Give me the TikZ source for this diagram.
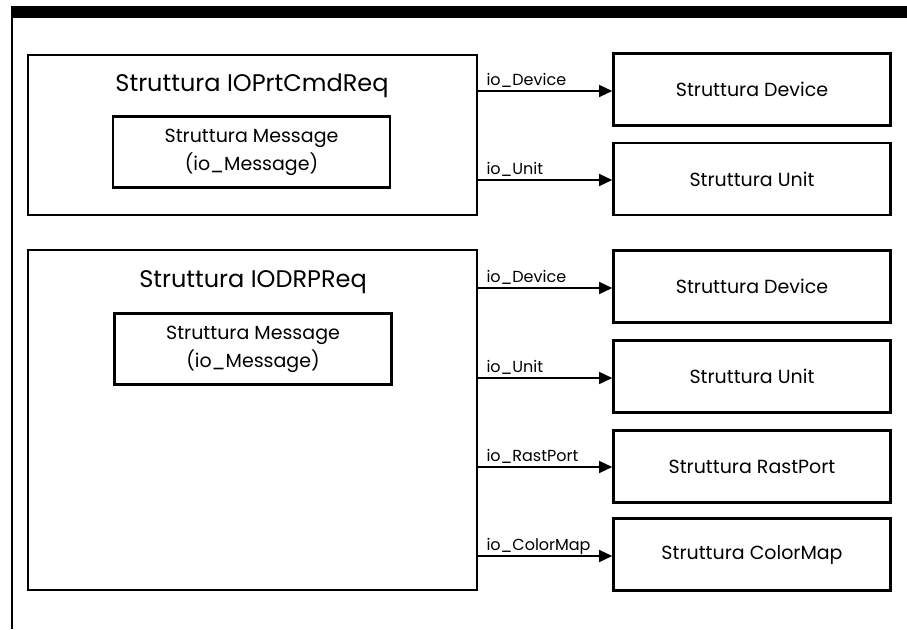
\documentclass[tikz,border=0pt]{standalone}
\usepackage{fontspec}
\setmainfont{Poppins}
\usetikzlibrary{arrows.meta}
\begin{document}
\begin{tikzpicture}[x=1pt,y=-1pt,
  outer/.style={draw,line width=2.6pt,inner sep=0pt},
  refbox/.style={draw,line width=2.6pt,minimum width=277pt,minimum height=72pt,inner sep=0pt,font=\fontsize{19}{23}\selectfont},
  msgbox/.style={draw,line width=2.2pt,minimum width=277pt,minimum height=71pt,inner sep=0pt,align=center,font=\fontsize{19}{28}\selectfont},
  titletext/.style={font=\fontsize{24}{28}\selectfont},
  lbl/.style={anchor=base west,inner sep=0pt,font=\fontsize{16}{18}\selectfont},
  link/.style={line width=1.4pt,-{Triangle[length=13pt,width=12pt]}}]
\useasboundingbox (0,0) rectangle (907,629);
% frame
\fill (11,6) rectangle (907,18);
\draw[line width=1.5pt] (12,18) -- (12,629);
% upper group
\node[outer,minimum width=449pt,minimum height=160pt] (A) at (252.5,135) {};
\node[titletext] (At) at (252,86) {Struttura IOPrtCmdReq};
\node[msgbox] (Am) at (251.5,152) {Struttura Message\\(io\_Message)};
\node[refbox] (Ad) at (752,89.5) {Struttura Device};
\node[refbox] (Au) at (752,179) {Struttura Unit};
% lower group
\node[outer,minimum width=449pt,minimum height=340pt] (B) at (252.5,420) {};
\node[titletext] (Bt) at (253,282) {Struttura IODRPReq};
\node[msgbox] (Bm) at (253,349) {Struttura Message\\(io\_Message)};
\node[refbox] (Bd) at (752,286.5) {Struttura Device};
\node[refbox] (Bu) at (752,376.5) {Struttura Unit};
\node[refbox] (Br) at (752,466.5) {Struttura RastPort};
\node[refbox] (Bc) at (752,554.5) {Struttura ColorMap};
% connectors
\foreach \src/\dst/\y/\txt in {A/Ad/91/io\_Device, A/Au/180/io\_Unit, B/Bd/288/io\_Device, B/Bu/378/io\_Unit, B/Br/467/io\_RastPort, B/Bc/556/io\_ColorMap}{
  \coordinate (s) at (\src.east |- 0,\y);
  \coordinate (t) at (\dst.west |- 0,\y);
  \draw[link] (s) -- (t);
  \node[lbl] at ([xshift=8pt,yshift=6pt]s) {\txt};
}
\end{tikzpicture}
\end{document}
